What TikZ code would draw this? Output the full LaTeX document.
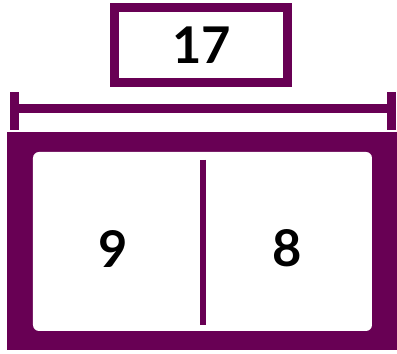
\documentclass[tikz,border=0pt]{standalone}
\usepackage{fontspec}
\setmainfont{Lato}
\definecolor{barpurple}{RGB}{104,0,84}
\usetikzlibrary{positioning}
\begin{document}
\begin{tikzpicture}[
  x=0.025cm, y=-0.025cm,
  totalbox/.style={
    rectangle,
    minimum width=173*0.025cm, minimum height=75*0.025cm,
    draw=barpurple, line width=9*0.025cm,
    font=\fontsize{36}{42}\selectfont\bfseries,
    text=black
  },
  partnum/.style={font=\fontsize{36}{42}\selectfont\bfseries, text=black},
  dimline/.style={draw=barpurple, line width=9*0.025cm},
  divline/.style={draw=barpurple, line width=6*0.025cm}
]
\useasboundingbox (0,0) rectangle (397,354);

% total on top
\node[totalbox] (total) at (201.5,45.5) {17};

% dimension line
\coordinate (dimL) at (15,109);
\coordinate (dimR) at (392,109);
\draw[dimline] (dimL) -- (dimR);
\draw[dimline] ([yshift=-21*0.025cm]dimL) -- ([yshift=17*0.025cm]dimL);
\draw[dimline] ([yshift=-21*0.025cm]dimR) -- ([yshift=17*0.025cm]dimR);

% bar split in two parts
\fill[barpurple] (7,132) rectangle (397,350);
\fill[white, rounded corners=6*0.025cm] (33,152) rectangle (372,331);
\coordinate (divT) at (203.5,160);
\coordinate (divB) at (203.5,325);
\draw[divline] (divT) -- (divB);

\node[partnum] (left) at (113,249) {9};
\node[partnum] (right) at (287,248) {8};
\end{tikzpicture}
\end{document}
